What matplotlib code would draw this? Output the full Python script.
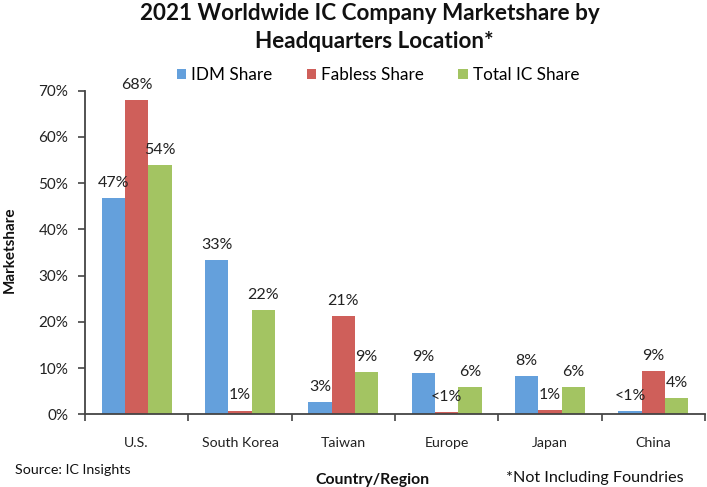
import matplotlib
matplotlib.use("Agg")
import matplotlib.pyplot as plt
import numpy as np
from matplotlib.ticker import FuncFormatter, FixedLocator

regions = ["U.S.", "South Korea", "Taiwan", "Europe", "Japan", "China"]
idm = [46.7, 33.4, 2.6, 9.0, 8.3, 0.7]
fabless = [68.0, 0.8, 21.2, 0.4, 0.9, 9.4]
total = [53.9, 22.5, 9.1, 5.9, 5.9, 3.5]
idm_labels = ["47%", "33%", "3%", "9%", "8%", "<1%"]
fabless_labels = ["68%", "1%", "21%", "<1%", "1%", "9%"]
total_labels = ["54%", "22%", "9%", "6%", "6%", "4%"]
series_names = ["IDM Share", "Fabless Share", "Total IC Share"]
yticks = [0, 10, 20, 30, 40, 50, 60, 70]

colors = ["#64A0DC", "#CF5F5A", "#A3C462"]
FONT = "Lato"
plt.rcParams["font.family"] = [FONT, "DejaVu Sans"]

fig = plt.figure(figsize=(7.07, 4.87), dpi=100)
ax = fig.add_axes([85/707, 72.7/487, 620/707, 323.6/487])

x = np.arange(len(regions))
w = 0.225
series = [idm, fabless, total]
labels = [idm_labels, fabless_labels, total_labels]
handles = []
for i, (vals, labs) in enumerate(zip(series, labels)):
    pos = x + (i - 1) * w
    b = ax.bar(pos, vals, width=w, color=colors[i], label=series_names[i], linewidth=0)
    handles.append(b)
    for px, v, t in zip(pos, vals, labs):
        ax.annotate(t, (px, v), xytext=(0, 11), textcoords="offset points",
                    ha="center", va="center", fontsize=11.5, color="#222222")

ax.set_xlim(-0.5, len(regions) - 0.5)
ax.set_ylim(0, 70)
ax.set_yticks(yticks)
ax.yaxis.set_major_formatter(FuncFormatter(lambda v, p: f"{int(v)}%"))
ax.set_xticks(x)
ax.set_xticklabels(regions)
ax.xaxis.set_minor_locator(FixedLocator(np.arange(-0.5, len(regions), 1.0)))
ax.tick_params(axis="x", which="major", length=0, pad=16, labelsize=10.2, colors="#222222")
ax.tick_params(axis="x", which="minor", length=5, width=1.2, direction="out", color="#444444")
ax.tick_params(axis="y", length=5, width=1.2, direction="out", color="#444444", labelsize=11,
               labelcolor="#222222", pad=7)
for s in ["top", "right"]:
    ax.spines[s].set_visible(False)
for s in ["left", "bottom"]:
    ax.spines[s].set_color("#444444")
    ax.spines[s].set_linewidth(1.3)

fig.text(10/707, 1 - 250/487, "Marketshare", rotation=90, ha="center", va="center",
         fontsize=11, fontweight="bold", color="#111111")
fig.text(370/707, 1 - 13/487, "2021 Worldwide IC Company Marketshare by", ha="center", va="center",
         fontsize=16.2, fontweight="bold", color="#111111")
fig.text(374/707, 1 - 41/487, "Headquarters Location*", ha="center", va="center",
         fontsize=16.2, fontweight="bold", color="#111111")
fig.text(15/707, 1 - 470/487, "Source: IC Insights", ha="left", va="center", fontsize=10.3, color="#111111")
fig.text(372/707, 1 - 480/487, "Country/Region", ha="center", va="center", fontsize=11.4,
         fontweight="bold", color="#111111")
fig.text(595/707, 1 - 478/487, "*Not Including Foundries", ha="center", va="center", fontsize=11.6,
         color="#111111")

fig.legend(handles=handles, labels=series_names, loc="center", bbox_to_anchor=(378/707, 1 - 75/487),
           ncol=3, frameon=False, fontsize=12.3, handlelength=0.55, handleheight=0.55,
           handletextpad=0.3, columnspacing=2.0)

fig.savefig("out.png", dpi=100)
